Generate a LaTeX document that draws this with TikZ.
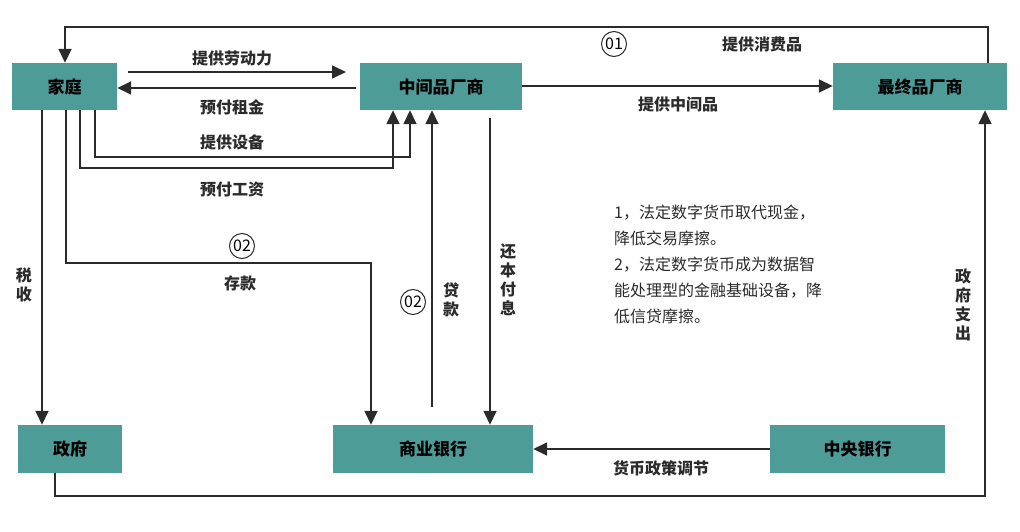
\documentclass[tikz,border=0pt]{standalone}
\usepackage{fontspec}
\setmainfont{Noto Sans CJK SC}
\usetikzlibrary{arrows.meta}
\definecolor{teal1}{HTML}{4D9C98}
\definecolor{ln}{HTML}{2B2B2B}
\begin{document}
\begin{tikzpicture}[x=1pt,y=-1pt,
  box/.style={draw=none,fill=teal1,inner sep=0,font=\fontsize{17}{18}\selectfont\bfseries},
  lbl/.style={font=\fontsize{16}{17}\selectfont\bfseries,text=ln,inner sep=1pt},
  vlbl/.style={lbl,align=center,font=\fontsize{16}{19}\selectfont\bfseries},
  arr/.style={draw=ln,line width=1.6pt,-{Triangle[length=14pt,width=13pt]}},
  circ/.style={draw=ln,circle,line width=1pt,inner sep=1pt,minimum size=25pt,font=\fontsize{16}{17}\selectfont}]
\useasboundingbox (0,0) rectangle (1020,532);
\node[box,minimum width=105,minimum height=47] (jt) at (64.5,86.5) {家庭};
\node[box,minimum width=162,minimum height=47] (zj) at (441,86.5) {中间品厂商};
\node[box,minimum width=174,minimum height=47] (zz) at (920,86.5) {最终品厂商};
\node[box,minimum width=104,minimum height=48] (zf) at (70,449) {政府};
\node[box,minimum width=200,minimum height=48] (sy) at (433,449) {商业银行};
\node[box,minimum width=175,minimum height=48] (zy) at (857.5,449) {中央银行};
\coordinate (t1) at (988,27);
\coordinate (t2) at (65,27);
\draw[arr] (zz.north -| t1) -- (t1) -- (t2) -- (jt.north -| t2);
\node[lbl] (l1) at (762,44) {提供消费品};
\node[circ] (c1) at (614,44) {01};
\coordinate (a1) at (128,72); \coordinate (a2) at (346,72);
\draw[arr] (a1) -- (a2);
\node[lbl] (l2) at (232,58) {提供劳动力};
\draw[arr] (356,88) coordinate (b1) -- (jt.east |- b1);
\node[lbl] (l3) at (232,107) {预付租金};
\coordinate (d1) at (95,157); \coordinate (d2) at (410,157);
\draw[arr] (jt.south -| d1) -- (d1) -- (d2) -- (zj.south -| d2);
\node[lbl] (l4) at (232,142) {提供设备};
\coordinate (e1) at (80,168); \coordinate (e2) at (393,168);
\draw[arr] (jt.south -| e1) -- (e1) -- (e2) -- (zj.south -| e2);
\node[lbl] (l5) at (232,190) {预付工资};
\draw[arr] (zj.east |- 0,86) -- (zz.west |- 0,86);
\node[lbl] (l6) at (678,104) {提供中间品};
\coordinate (f1) at (66,263); \coordinate (f2) at (371,263);
\draw[arr] (jt.south -| f1) -- (f1) -- (f2) -- (sy.north -| f2);
\node[circ] (c2) at (242,246) {02};
\node[lbl] (l7) at (240,283) {存款};
\coordinate (g1) at (42,0);
\draw[arr] (jt.south -| g1) -- (zf.north -| g1);
\node[vlbl] (l8) at (24,285) {税\\收};
\coordinate (h1) at (432,407);
\draw[arr] (h1) -- (zj.south -| h1);
\node[vlbl] (l9) at (451,300) {贷\\款};
\node[circ] (c3) at (413,302) {02};
\coordinate (i1) at (490,118);
\draw[arr] (i1) -- (sy.north -| i1);
\node[vlbl] (l10) at (508,280) {还\\本\\付\\息};
\coordinate (k1) at (55,496); \coordinate (k2) at (985,496);
\draw[arr] (zf.south -| k1) -- (k1) -- (k2) -- (zz.south -| k2);
\node[vlbl] (l11) at (963,305) {政\\府\\支\\出};
\draw[arr] (zy.west) -- (sy.east);
\node[lbl] (l12) at (661,468) {货币政策调节};
\node[anchor=north west,align=left,text=ln,inner sep=1pt,font=\fontsize{16}{26}\selectfont] (txt) at (613,204)
{1，法定数字货币取代现金，\\降低交易摩擦。\\2，法定数字货币成为数据智\\能处理型的金融基础设备，降\\低信贷摩擦。};
\end{tikzpicture}
\end{document}
